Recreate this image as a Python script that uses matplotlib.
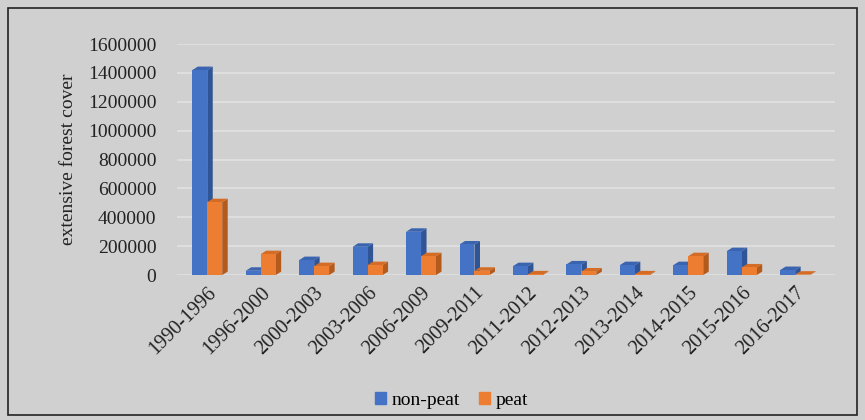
import matplotlib.pyplot as plt
import numpy as np
from matplotlib.patches import Rectangle, Polygon

plt.rcParams['font.family'] = ['Liberation Serif', 'DejaVu Serif']

periods = ['1990-1996', '1996-2000', '2000-2003', '2003-2006', '2006-2009', '2009-2011',
           '2011-2012', '2012-2013', '2013-2014', '2014-2015', '2015-2016', '2016-2017']
non_peat = [1420000, 30000, 104000, 196000, 300000, 212000,
            62000, 74000, 69000, 69000, 166000, 35000]
peat = [505000, 145000, 62000, 69000, 131000, 30000,
        5000, 25000, 5000, 131000, 53000, 3000]

bg = '#d0d0d0'
blue, blue_side, blue_top = '#4472c4', '#2f5597', '#3a64b0'
orange, orange_side, orange_top = '#ed7d31', '#b35a1c', '#d56c25'

fig = plt.figure(figsize=(8.65, 4.2), dpi=100, facecolor=bg)
ax = fig.add_axes([0.205, 0.345, 0.76, 0.55])
ax.set_facecolor(bg)

# outer frame
fig.patches.append(Rectangle((0.009, 0.012), 0.982, 0.97, transform=fig.transFigure,
                             fill=False, edgecolor='#222222', linewidth=1.2))

ax.set_ylim(0, 1600000)
ax.set_xlim(-0.56, 11.74)

x = np.arange(len(periods))
w = 0.28

# depth of the fake 3D bars: a few px right and up, turned into data units
inv = ax.transData.inverted()
p0 = inv.transform(ax.transData.transform((0, 0)))
p1 = inv.transform(ax.transData.transform((0, 0)) + np.array([5.5, 3.5]))
dx, dy = p1 - p0

z = 2
for i in range(len(periods)):
    for xc, v, c, cs, ct in [(x[i] - w / 2, non_peat[i], blue, blue_side, blue_top),
                             (x[i] + w / 2, peat[i], orange, orange_side, orange_top)]:
        l, r = xc - w / 2, xc + w / 2
        ax.add_patch(Polygon([(r, 0), (r + dx, dy), (r + dx, v + dy), (r, v)],
                             closed=True, facecolor=cs, edgecolor='none', zorder=z))
        ax.add_patch(Polygon([(l, v), (l + dx, v + dy), (r + dx, v + dy), (r, v)],
                             closed=True, facecolor=ct, edgecolor='none', zorder=z))
        ax.bar(xc, v, w, color=c, zorder=z + 1)
        z += 2

ax.set_yticks(np.arange(0, 1600001, 200000))
ax.ticklabel_format(axis='y', style='plain')
ax.yaxis.grid(True, color='#e2e2e2', linewidth=1.2, zorder=0)
ax.set_axisbelow(True)
for s in ax.spines.values():
    s.set_visible(False)
ax.tick_params(length=0, labelsize=14, colors='#222222')
ax.tick_params(axis='y', pad=15)
ax.tick_params(axis='x', pad=6)

ax.set_xticks(x)
ax.set_xticklabels(periods, rotation=45, ha='right', rotation_mode='anchor', fontsize=14.5)
ax.set_ylabel('extensive forest cover', fontsize=14, color='#222222', labelpad=8)

handles = [Rectangle((0, 0), 1, 1, color=blue), Rectangle((0, 0), 1, 1, color=orange)]
fig.legend(handles, ['non-peat', 'peat'], loc='center', bbox_to_anchor=(0.522, 0.047),
           ncol=2, frameon=False, fontsize=14, handlelength=0.55, handleheight=0.55,
           handletextpad=0.3, columnspacing=1.0)

fig.savefig('out.png', dpi=100, facecolor=bg)
